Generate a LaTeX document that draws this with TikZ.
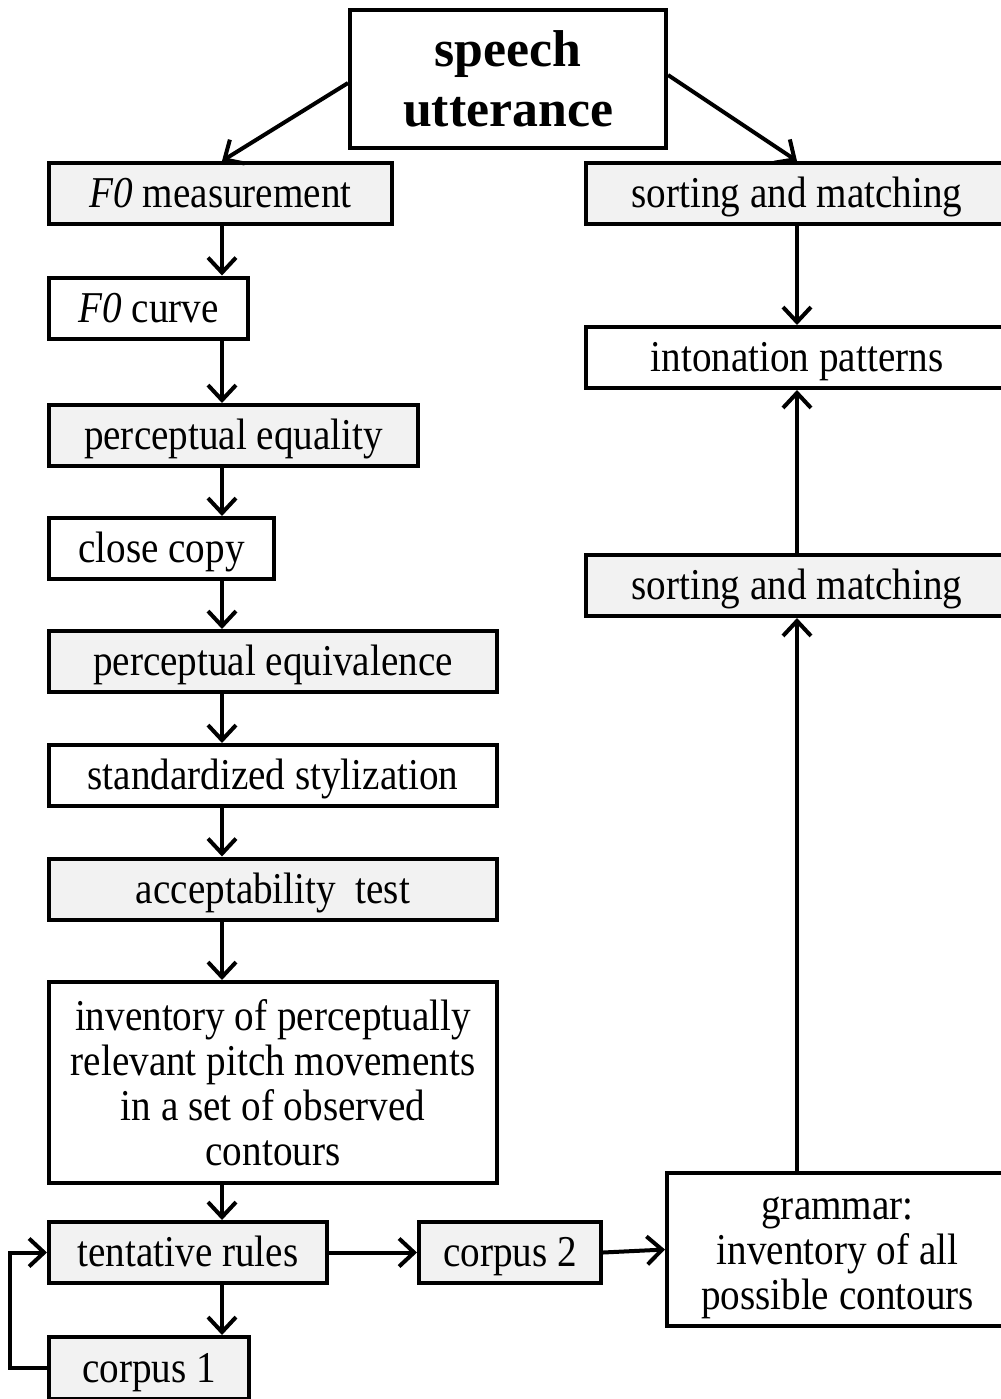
\documentclass[tikz,border=0pt]{standalone}
\usepackage{fontspec}
\setmainfont{Liberation Serif}[FakeStretch=0.89]
\newfontfamily\headfont{Liberation Serif}
\usepackage{tikz}
\usetikzlibrary{arrows.meta}

\definecolor{boxgrey}{HTML}{F2F2F2}

\tikzset{
  stage/.style={draw, line width=2pt, inner sep=0pt, minimum height=30.5pt,
    align=center, text height=15pt, text depth=1pt,
    font=\fontsize{22}{22.5}\selectfont},
  greystage/.style={stage, fill=boxgrey},
  whitestage/.style={stage, fill=white},
  flow/.style={line width=2pt, -{Straight Barb[length=7.5pt,width=14pt]}}
}

\begin{document}
\begin{tikzpicture}[x=0.5pt,y=-0.5pt]
  \useasboundingbox (0,0) rectangle (1001,1399);

  % top
  \node[whitestage, minimum width=158pt, minimum height=69pt, text height=49.7pt, text depth=2pt,
        font=\headfont\bfseries\fontsize{25.9}{30.3}\selectfont] (speech) at (508,79) {speech\\utterance};

  % left column
  \node[greystage,  minimum width=171.5pt] (fzm)    at (220.5,193.5) {\textit{F0} measurement};
  \node[whitestage, minimum width=99.5pt]  (fzc)    at (148.5,308)   {\textit{F0} curve};
  \node[greystage,  minimum width=184.5pt] (peq)    at (233.5,435.5) {perceptual equality};
  \node[whitestage, minimum width=112.5pt] (ccopy)  at (161.5,548.5) {close copy};
  \node[greystage,  minimum width=224pt]   (pequiv) at (273,661.5)   {perceptual equivalence};
  \node[whitestage, minimum width=224pt]   (stdsty) at (273,775.5)   {standardized stylization};
  \node[greystage,  minimum width=224pt]   (accept) at (273,889)     {acceptability\ \ test};
  \node[whitestage, minimum width=224pt, minimum height=100.5pt, text height=84.2pt] (invent) at (273,1082.5)
    {inventory of perceptually\\relevant pitch movements\\in a set of observed\\contours};
  \node[greystage,  minimum width=139pt]   (rules)  at (188,1252.5)  {tentative rules};
  \node[greystage,  minimum width=100pt, minimum height=31pt] (corpA) at (149,1368) {corpus 1};
  \node[greystage,  minimum width=91pt]    (corpB)  at (510,1252.5)  {corpus 2};

  % right column
  \node[greystage,  minimum width=211pt]   (sortA)  at (797,193.5)   {sorting and matching};
  \node[whitestage, minimum width=211pt]   (inton)  at (797,357.5)   {intonation patterns};
  \node[greystage,  minimum width=211pt]   (sortB)  at (797,585.5)   {sorting and matching};
  \node[whitestage, minimum width=170.5pt, minimum height=76.5pt, text height=61.2pt] (gram) at (837.5,1249.5)
    {grammar:\\inventory of all\\possible contours};

  \coordinate (spine) at (222,0);

  \draw[flow] (speech.west |- 0,83) -- (fzm.north -| spine);
  \draw[flow] (speech.east |- 0,75) -- (sortA.north);
  \draw[flow] (fzm.south -| spine) -- (fzc.north -| spine);
  \draw[flow] (fzc.south -| spine) -- (peq.north -| spine);
  \draw[flow] (peq.south -| spine) -- (ccopy.north -| spine);
  \draw[flow] (ccopy.south -| spine) -- (pequiv.north -| spine);
  \draw[flow] (pequiv.south -| spine) -- (stdsty.north -| spine);
  \draw[flow] (stdsty.south -| spine) -- (accept.north -| spine);
  \draw[flow] (accept.south -| spine) -- (invent.north -| spine);
  \draw[flow] (invent.south -| spine) -- (rules.north -| spine);
  \draw[flow] (rules.south -| spine) -- (corpA.north -| spine);
  \draw[flow] (corpA.west) -- ++(-37,0) |- (rules.west);
  \draw[flow] (rules.east) -- (corpB.west);
  \draw[flow] (corpB.east) -- (gram.west);
  \draw[flow] (gram.north -| sortB) -- (sortB.south);
  \draw[flow] (sortB.north) -- (inton.south);
  \draw[flow] (sortA.south) -- (inton.north);
\end{tikzpicture}
\end{document}
